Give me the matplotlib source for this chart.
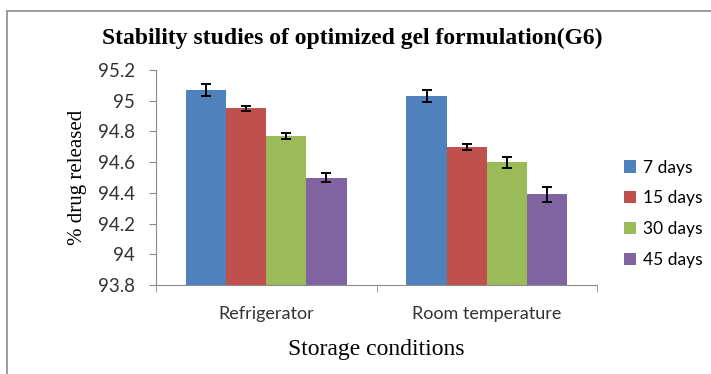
import matplotlib
matplotlib.use("Agg")
import matplotlib.pyplot as plt
import numpy as np
from matplotlib.patches import Rectangle

categories = ["Refrigerator", "Room temperature"]
series_names = ["7 days", "15 days", "30 days", "45 days"]
values = {
    "7 days": [95.07, 95.03],
    "15 days": [94.95, 94.70],
    "30 days": [94.77, 94.60],
    "45 days": [94.50, 94.39],
}
errors = {
    "7 days": [0.04, 0.04],
    "15 days": [0.015, 0.02],
    "30 days": [0.02, 0.035],
    "45 days": [0.03, 0.05],
}
colors = ["#4F81BD", "#C0504D", "#9BBB59", "#8064A2"]
yticks = [93.8, 94, 94.2, 94.4, 94.6, 94.8, 95, 95.2]
ytick_labels = ["93.8", "94", "94.2", "94.4", "94.6", "94.8", "95", "95.2"]

fig = plt.figure(figsize=(7.11, 3.74), dpi=100)
fig.patch.set_facecolor("white")
# outer chart border
fig.add_artist(Rectangle((7/711, -0.1), 1.2, 1 - 11/374 + 0.1, transform=fig.transFigure,
                         fill=False, edgecolor="#8c8c8c", linewidth=1.2))

ax = fig.add_axes([156/711, 1 - 285/374, (597 - 156)/711, (285 - 70)/374])
x = np.arange(len(categories))
bw = 0.182
for i, name in enumerate(series_names):
    ax.bar(x + (i - 1.5) * bw, values[name], bw, bottom=0, color=colors[i],
           yerr=errors[name], capsize=3.5, error_kw=dict(ecolor="black", elinewidth=1.4, capthick=1.4),
           label=name, zorder=2)

ax.set_ylim(93.8, 95.2)
ax.set_xlim(-0.5, 1.5)
ax.set_yticks(yticks)
ax.set_yticklabels(ytick_labels, fontfamily="Lato", fontsize=13.5, color="#333333")
ax.set_xticks(x)
ax.set_xticklabels(categories, fontfamily="Lato", fontsize=13, color="#333333")
ax.tick_params(axis="x", length=0, pad=15)
ax.set_xticks([-0.5, 0.5, 1.5], minor=True)
ax.tick_params(axis="x", which="minor", length=5, color="#8c8c8c", direction="out")
ax.tick_params(axis="y", length=5, color="#8c8c8c", direction="out", pad=10)
for s in ["top", "right"]:
    ax.spines[s].set_visible(False)
for s in ["left", "bottom"]:
    ax.spines[s].set_color("#8c8c8c")

ax.set_ylabel("% drug released", fontfamily="Liberation Serif", fontsize=15, labelpad=8)
ax.set_xlabel("Storage conditions", fontfamily="Liberation Serif", fontsize=17, labelpad=12)
fig.text(352/711, 1 - 38/374, "Stability studies of optimized gel formulation(G6)",
         fontfamily="Liberation Serif", fontweight="bold", fontsize=17, ha="center", va="center")

leg = fig.legend(loc="upper left", bbox_to_anchor=(608/711, 1 - 144/374), frameon=False,
                 prop=dict(family="Lato", size=12.5), handlelength=0.7, handleheight=0.7,
                 handletextpad=0.4, labelspacing=0.85)

fig.savefig("out.png", dpi=100)
